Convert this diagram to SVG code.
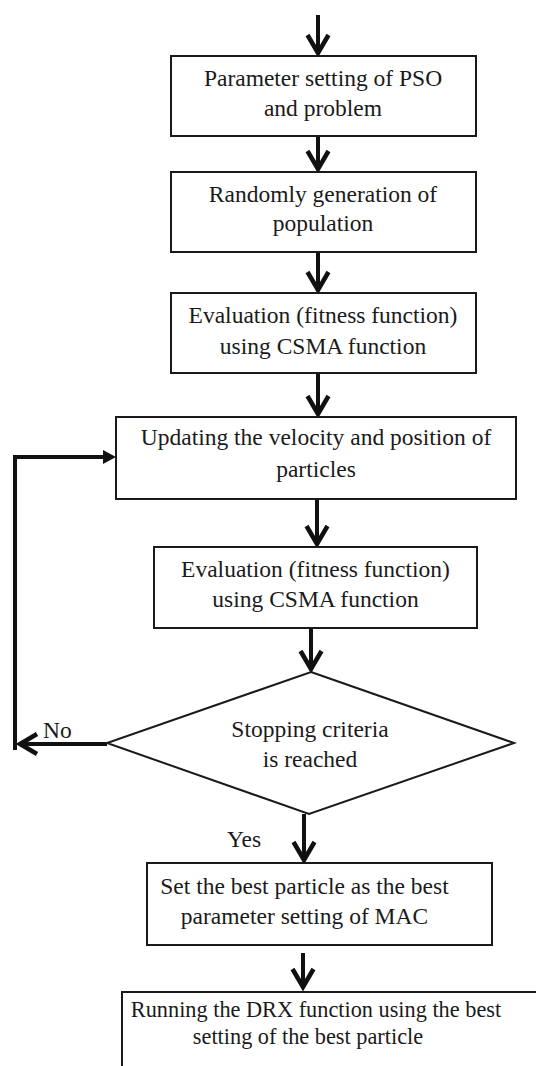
<svg xmlns="http://www.w3.org/2000/svg" xmlns:xlink="http://www.w3.org/1999/xlink" width="536" height="1066" viewBox="0 0 536 1066">
<style>
.box{fill:#fff;stroke:#1a1a1a;stroke-width:2}
.t{font-family:'Liberation Serif','Times New Roman',Times,serif;font-size:23.5px;fill:#1a1a1a;text-anchor:middle}
.s{font-size:22.3px}
.lbl{font-family:'Liberation Serif','Times New Roman',Times,serif;font-size:23.5px;fill:#1a1a1a}
.ln{stroke:#111;stroke-width:4;fill:none}
</style>
<defs>
<path id="chev" d="M-10.5,-19 L0,-1 L10.5,-19" fill="none" stroke="#111" stroke-width="4.5" stroke-linejoin="miter"/>
</defs>
<rect width="536" height="1066" fill="#fff"/>
<g id="connectors">
<line class="ln" x1="318" y1="15" x2="318" y2="54"/><use xlink:href="#chev" x="318" y="54"/>
<line class="ln" x1="318" y1="136" x2="318" y2="170"/><use xlink:href="#chev" x="318" y="170"/>
<line class="ln" x1="318" y1="252" x2="318" y2="291"/><use xlink:href="#chev" x="318" y="291"/>
<line class="ln" x1="318" y1="373" x2="318" y2="415"/><use xlink:href="#chev" x="318" y="415"/>
<line class="ln" x1="317" y1="499" x2="317" y2="545"/><use xlink:href="#chev" x="317" y="545"/>
<line class="ln" x1="311" y1="628" x2="311" y2="670"/><use xlink:href="#chev" x="311" y="670"/>
<line class="ln" x1="304" y1="814" x2="304" y2="861"/><use xlink:href="#chev" x="304" y="861"/>
<line class="ln" x1="303" y1="953" x2="303" y2="987"/><use xlink:href="#chev" x="303" y="988"/>
<line class="ln" x1="107" y1="744" x2="19" y2="744" stroke-width="3.5"/>
<path d="M37,734 L20,744 L37,754" fill="none" stroke="#111" stroke-width="4.5"/>
<line class="ln" x1="15" y1="750" x2="15" y2="457" stroke-width="5"/>
<line class="ln" x1="13" y1="457" x2="104" y2="457"/>
<polygon points="103,450 116,457 103,464" fill="#111"/>
<text class="lbl" x="43" y="738">No</text>
<text class="lbl" x="227" y="847">Yes</text>
</g>
<g id="n1"><rect class="box" x="171" y="56" width="305" height="80"/>
<text class="t" x="323" y="86">Parameter setting of PSO</text><text class="t" x="323" y="116">and problem</text></g>
<g id="n2"><rect class="box" x="171" y="172" width="305" height="80"/>
<text class="t" x="323" y="202">Randomly generation of</text><text class="t" x="323" y="231">population</text></g>
<g id="n3"><rect class="box" x="171" y="293" width="305" height="80"/>
<text class="t" x="323" y="323">Evaluation (fitness function)</text><text class="t" x="323" y="354">using CSMA function</text></g>
<g id="n4"><rect class="box" x="116" y="417" width="400" height="82"/>
<text class="t" x="316" y="445">Updating the velocity and position of</text><text class="t" x="316" y="477">particles</text></g>
<g id="n5"><rect class="box" x="154" y="547" width="323" height="81"/>
<text class="t" x="315.5" y="577">Evaluation (fitness function)</text><text class="t" x="315.5" y="607">using CSMA function</text></g>
<g id="n6"><polygon class="box" points="311,672 514,743 309,814 107,743"/>
<text class="t" x="310" y="737">Stopping criteria</text><text class="t" x="310" y="767">is reached</text></g>
<g id="n7"><rect class="box" x="147" y="863" width="345" height="82"/>
<text class="t" x="304.5" y="894">Set the best particle as the best</text><text class="t" x="304.5" y="924">parameter setting of MAC</text></g>
<g id="n8"><rect class="box" x="122" y="992" width="420" height="90"/>
<text class="t s" x="316" y="1017">Running the DRX function using the best</text><text class="t s" x="308" y="1044">setting of the best particle</text></g>
</svg>
